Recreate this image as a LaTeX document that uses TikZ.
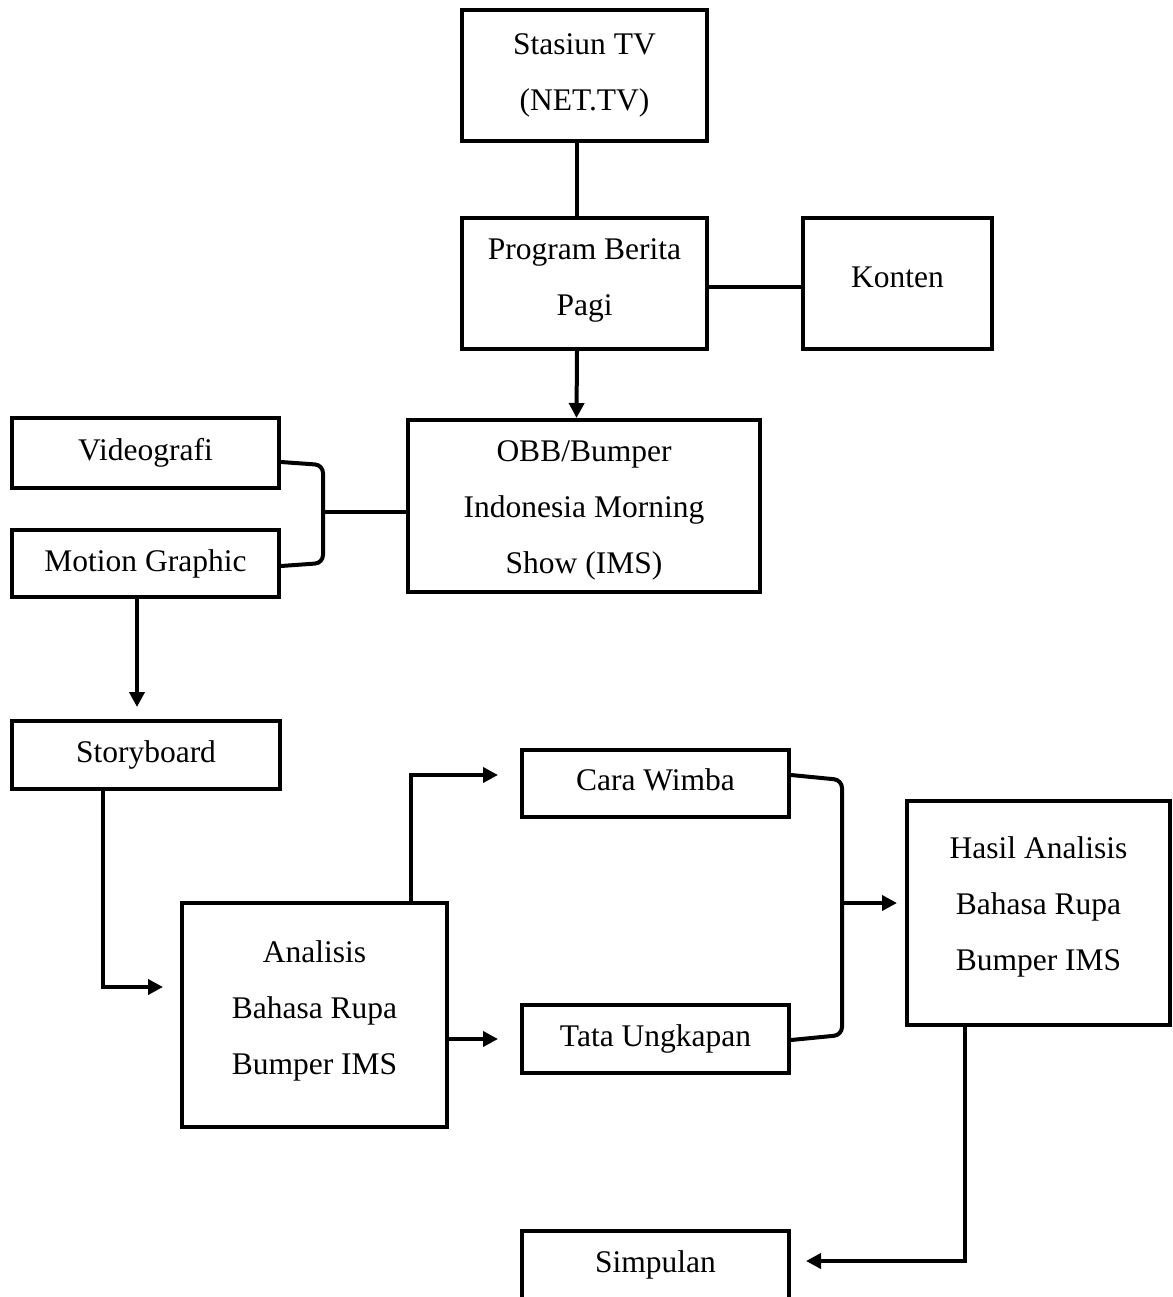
\documentclass[tikz,border=0pt]{standalone}
\usepackage{fontspec}
\setmainfont{Liberation Serif}
\usetikzlibrary{arrows.meta,calc}
\begin{document}
\begin{tikzpicture}[x=1pt,y=-1pt,line width=4pt,
  txt/.style={inner sep=0pt, align=center, font=\fontsize{31.5}{56}\selectfont},
  box/.style={draw, line width=4pt, txt},
  arr/.style={-{Triangle[length=15pt,width=15pt]}}]
\useasboundingbox (0,0) rectangle (1172,1297);
\clip (0,0) rectangle (1172,1297);
% boxes
\node[box, minimum width=245pt, minimum height=131pt] (st) at (584.5,75.5) {Stasiun TV\\(NET.TV)};
\node[box, minimum width=245pt, minimum height=131pt] (pb) at (584.5,283.5) {};
\node[txt] (pbt) at ([yshift=3pt]pb.center) {Program Berita\\Pagi};
\node[box, minimum width=189pt, minimum height=131pt] (ko) at (897.5,283.5) {};
\node[txt] (kot) at ([yshift=6pt]ko.center) {Konten};
\node[box, minimum width=352pt, minimum height=172pt] (obb) at (584,506) {};
\node[txt] (obbt) at ([yshift=-4pt]obb.center) {OBB/Bumper\\Indonesia Morning\\Show (IMS)};
\node[box, minimum width=267pt, minimum height=70pt] (vid) at (145.5,453) {Videografi};
\node[box, minimum width=267pt, minimum height=67pt] (mg) at (145.5,563.5) {Motion Graphic};
\node[box, minimum width=268pt, minimum height=68pt] (sb) at (146,755) {Storyboard};
\node[box, minimum width=265pt, minimum height=224pt] (an) at (314.5,1015) {};
\node[txt] (ant) at ([yshift=4pt]an.center) {Analisis\\Bahasa Rupa\\Bumper IMS};
\node[box, minimum width=267pt, minimum height=67pt] (cw) at (655.5,783.5) {};
\node[txt] (cwt) at ([yshift=4pt]cw.center) {Cara Wimba};
\node[box, minimum width=267pt, minimum height=68pt] (tu) at (655.5,1039) {Tata Ungkapan};
\node[box, minimum width=263pt, minimum height=224pt] (ha) at (1038.5,913) {};
\node[txt] (hat) at ([yshift=6pt]ha.center) {Hasil Analisis\\Bahasa Rupa\\Bumper IMS};
\node[box, minimum width=267pt, minimum height=68pt] (si) at (655.5,1265) {Simpulan};
% helper coordinates
\coordinate (lbt) at (323,465);
\coordinate (lbb) at (323,563);
\coordinate (lbm) at (323,512);
\coordinate (rbt) at (842,780);
\coordinate (rbb) at (842,1035);
\coordinate (rbm) at (842,903);
% connectors
\draw ([xshift=-7.5pt]st.south) -- ([xshift=-7.5pt]pb.north);
\draw ([yshift=-3.5pt]pb.east) -- ([yshift=-3.5pt]ko.west);
\draw[arr] ([xshift=-7.5pt]pb.south) -- ([xshift=-7.5pt]obb.north);
\draw[rounded corners=8pt] ([yshift=-9pt]vid.east) -- (lbt) -- (lbb) -- ([yshift=-2.5pt]mg.east);
\draw (lbm) -- ([yshift=-6pt]obb.west);
\draw[arr, shorten >=12pt] ([xshift=-8.5pt]mg.south) -- ([xshift=-9pt]sb.north);
\draw[arr, shorten >=17pt] ([xshift=-43pt]sb.south) |- ([yshift=28pt]an.west);
\draw[arr, shorten >=22pt] ([xshift=96.5pt]an.north) |- ([yshift=8.5pt]cw.west);
\draw[arr, shorten >=22pt] ([yshift=-24pt]an.east) -- (tu.west);
\draw[rounded corners=8pt] ([yshift=8.5pt]cw.east) -- (rbt) -- (rbb) -- ([yshift=-1pt]tu.east);
\draw[arr, shorten >=8pt] (rbm) -- ([yshift=10pt]ha.west);
\draw[arr, shorten >=15pt] ([xshift=-73.5pt]ha.south) |- ([yshift=4pt]si.east);
\end{tikzpicture}
\end{document}
